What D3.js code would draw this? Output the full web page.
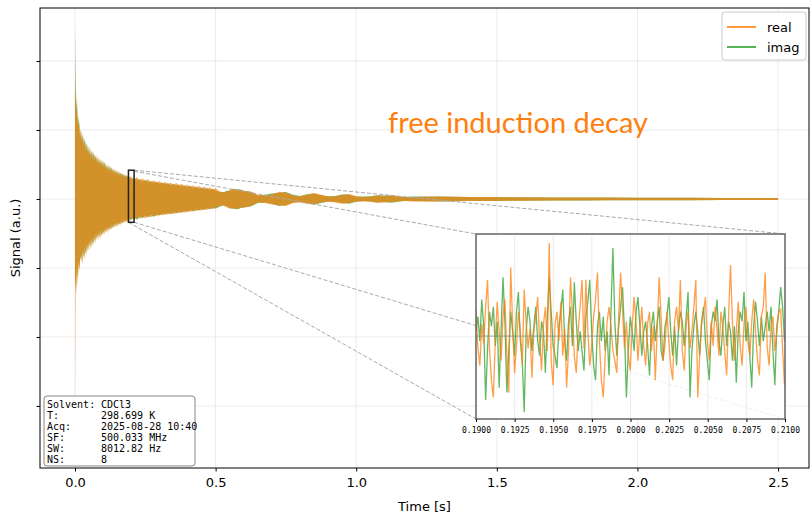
<!DOCTYPE html>
<html>
<head>
<meta charset="utf-8">
<script src="https://cdn.jsdelivr.net/npm/d3@7"></script>
<style>
  body { margin: 0; background: #fff; }
  svg { display: block; }
</style>
</head>
<body>
<div id="main"></div>
<script>
// ---- data ----
// main trace drawn as min/max envelope per time bin
var envT = [0, 0.002, 0.004, 0.007, 0.010, 0.013, 0.016, 0.019,
  0.022, 0.026, 0.030, 0.034, 0.038, 0.042, 0.046, 0.050, 0.054, 0.058,
  0.062, 0.066, 0.070, 0.074, 0.078, 0.082, 0.086, 0.090, 0.094, 0.098,
  0.102, 0.106, 0.110, 0.114, 0.118, 0.122, 0.126, 0.130, 0.134, 0.138,
  0.142, 0.146, 0.150, 0.154, 0.158, 0.162, 0.166, 0.170, 0.174, 0.178,
  0.182, 0.186, 0.190, 0.194, 0.198,
  0.21, 0.22, 0.23, 0.24, 0.25, 0.26, 0.27, 0.28, 0.29, 0.30,
  0.31, 0.32, 0.33, 0.34, 0.35, 0.36, 0.37, 0.38, 0.39, 0.40,
  0.41, 0.42, 0.43, 0.44, 0.45, 0.46, 0.47, 0.48, 0.49, 0.50,
  0.51, 0.52, 0.53, 0.54, 0.55, 0.56, 0.57, 0.58, 0.59, 0.60,
  0.625, 0.65, 0.675, 0.70, 0.725, 0.75, 0.775, 0.80, 0.825, 0.85, 0.875, 0.90,
  0.925, 0.95, 0.975, 1.00, 1.025, 1.05, 1.075, 1.10, 1.125, 1.15, 1.175, 1.20,
  1.3, 1.4, 1.5, 1.6, 1.7, 1.8, 1.9, 2.0, 2.1, 2.2, 2.3, 2.4, 2.5];
var realHi = [1.94, 1.35, 1.55, 1.10, 1.30, 0.95, 1.15, 0.90,
  1.00, 0.78, 0.92, 0.70, 0.85, 0.66, 0.80, 0.62, 0.74, 0.60,
  0.70, 0.55, 0.66, 0.52, 0.64, 0.50, 0.60, 0.48, 0.58, 0.46,
  0.56, 0.44, 0.52, 0.42, 0.50, 0.40, 0.48, 0.38, 0.45, 0.37,
  0.44, 0.35, 0.42, 0.34, 0.40, 0.33, 0.38, 0.32, 0.37, 0.31,
  0.36, 0.30, 0.35, 0.29, 0.33,
  0.28, 0.32, 0.26, 0.30, 0.25, 0.29, 0.24, 0.27, 0.23, 0.26,
  0.22, 0.25, 0.21, 0.24, 0.20, 0.23, 0.19, 0.22, 0.18, 0.21,
  0.17, 0.20, 0.16, 0.19, 0.15, 0.18, 0.14, 0.17, 0.13, 0.16,
  0.12, 0.10, 0.09, 0.11, 0.13, 0.14, 0.15, 0.13, 0.14, 0.12,
  0.11, 0.06, 0.05, 0.07, 0.10, 0.09, 0.05, 0.04, 0.06, 0.085, 0.06, 0.035,
  0.04, 0.06, 0.07, 0.04, 0.03, 0.035, 0.05, 0.045, 0.055, 0.04, 0.025, 0.03,
  0.035, 0.03, 0.028, 0.025, 0.023, 0.021, 0.02, 0.019, 0.018, 0.017, 0.016, 0.015, 0.015];
var realLo = [-2.96, -1.20, -1.40, -1.00, -1.25, -0.90, -1.05, -0.85,
  -0.80, -0.95, -0.72, -0.88, -0.66, -0.82, -0.62, -0.76, -0.58, -0.72,
  -0.55, -0.68, -0.52, -0.64, -0.50, -0.60, -0.48, -0.58, -0.45, -0.54,
  -0.44, -0.52, -0.42, -0.50, -0.40, -0.47, -0.38, -0.45, -0.37, -0.43,
  -0.35, -0.42, -0.34, -0.40, -0.33, -0.38, -0.32, -0.36, -0.31, -0.35,
  -0.30, -0.34, -0.29, -0.33, -0.28,
  -0.30, -0.26, -0.29, -0.25, -0.28, -0.24, -0.27, -0.23, -0.25, -0.22,
  -0.24, -0.21, -0.23, -0.20, -0.22, -0.19, -0.21, -0.18, -0.20, -0.17,
  -0.19, -0.16, -0.18, -0.15, -0.17, -0.14, -0.16, -0.13, -0.15, -0.12,
  -0.11, -0.09, -0.10, -0.12, -0.14, -0.13, -0.15, -0.14, -0.12, -0.13,
  -0.10, -0.05, -0.06, -0.08, -0.09, -0.10, -0.06, -0.05, -0.07, -0.08, -0.05, -0.04,
  -0.05, -0.07, -0.06, -0.035, -0.035, -0.04, -0.055, -0.05, -0.045, -0.035, -0.03, -0.035,
  -0.035, -0.03, -0.028, -0.025, -0.023, -0.021, -0.02, -0.019, -0.018, -0.017, -0.016, -0.015, -0.015];
var imagHi = [2.48, 1.70, 1.30, 1.45, 1.05, 1.20, 0.92, 1.00,
  0.85, 0.95, 0.76, 0.88, 0.70, 0.82, 0.64, 0.76, 0.62, 0.70,
  0.58, 0.68, 0.55, 0.64, 0.52, 0.60, 0.50, 0.57, 0.47, 0.54,
  0.46, 0.54, 0.43, 0.50, 0.41, 0.48, 0.39, 0.46, 0.38, 0.43,
  0.36, 0.42, 0.35, 0.40, 0.34, 0.38, 0.33, 0.37, 0.32, 0.35,
  0.31, 0.34, 0.30, 0.33, 0.29,
  0.30, 0.27, 0.29, 0.25, 0.28, 0.24, 0.26, 0.23, 0.25, 0.22,
  0.24, 0.21, 0.23, 0.20, 0.22, 0.19, 0.21, 0.18, 0.20, 0.17,
  0.19, 0.16, 0.18, 0.15, 0.17, 0.14, 0.16, 0.13, 0.15, 0.12,
  0.11, 0.10, 0.10, 0.12, 0.12, 0.15, 0.14, 0.14, 0.13, 0.12,
  0.10, 0.05, 0.06, 0.08, 0.09, 0.10, 0.06, 0.045, 0.07, 0.08, 0.055, 0.04,
  0.045, 0.065, 0.065, 0.035, 0.035, 0.04, 0.055, 0.05, 0.05, 0.035, 0.03, 0.035,
  0.035, 0.03, 0.028, 0.025, 0.023, 0.021, 0.02, 0.019, 0.018, 0.017, 0.016, 0.015, 0.015];
var imagLo = [-1.36, -1.10, -1.30, -0.95, -1.15, -0.88, -1.00, -0.82,
  -0.90, -0.74, -0.85, -0.70, -0.80, -0.64, -0.75, -0.60, -0.70, -0.57,
  -0.66, -0.53, -0.62, -0.50, -0.58, -0.48, -0.56, -0.46, -0.53, -0.44,
  -0.50, -0.42, -0.48, -0.40, -0.46, -0.39, -0.44, -0.37, -0.42, -0.36,
  -0.40, -0.34, -0.39, -0.33, -0.37, -0.32, -0.36, -0.31, -0.34, -0.30,
  -0.33, -0.29, -0.32, -0.28, -0.31,
  -0.27, -0.30, -0.25, -0.28, -0.24, -0.27, -0.23, -0.26, -0.22, -0.24,
  -0.21, -0.23, -0.20, -0.22, -0.19, -0.21, -0.18, -0.20, -0.17, -0.19,
  -0.16, -0.18, -0.15, -0.17, -0.14, -0.16, -0.13, -0.15, -0.12, -0.14,
  -0.12, -0.10, -0.09, -0.11, -0.13, -0.14, -0.14, -0.15, -0.13, -0.12,
  -0.11, -0.06, -0.05, -0.07, -0.10, -0.09, -0.05, -0.045, -0.06, -0.085, -0.06, -0.035,
  -0.04, -0.06, -0.07, -0.04, -0.03, -0.035, -0.05, -0.045, -0.055, -0.04, -0.025, -0.03,
  -0.035, -0.03, -0.028, -0.025, -0.023, -0.021, -0.02, -0.019, -0.018, -0.017, -0.016, -0.015, -0.015];

// zoomed window 0.19 - 0.21 s, one value per dwell time
var zoomStart = 0.19;
var dwell = 1 / 8012.82;
var zoomReal = [0.11, -0.05, -0.12, 0.05, -0.03, 0.12, 0.23, -0.05, -0.18, -0.25,
  -0.02, 0.14, 0.02, -0.10, 0.08, 0.15, -0.08, -0.23, 0.28, 0.05,
  -0.15, -0.04, 0.10, 0.02, -0.12, 0.19, 0.06, -0.05, 0.03, -0.17,
  0.02, 0.08, 0.16, -0.02, -0.14, 0.05, 0.12, -0.06, 0.38, -0.10,
  -0.20, 0.05, 0.10, -0.02, 0.14, -0.08, 0.03, -0.21, -0.05, 0.24,
  0.10, -0.08, -0.15, 0.02, 0.12, 0.23, -0.05, 0.23, 0.02, -0.12,
  -0.04, 0.08, 0.15, 0.26, -0.02, -0.18, -0.25, -0.08, 0.06, 0.12,
  0.04, -0.06, -0.10, -0.15, 0.08, 0.26, 0.10, -0.05, 0.06, -0.08,
  -0.14, 0.04, 0.16, 0.06, -0.10, 0.02, 0.12, -0.04, -0.12, 0.05,
  0.10, -0.06, 0.04, -0.18, 0.03, 0.24, 0.08, -0.10, -0.04, 0.10,
  -0.02, -0.12, -0.18, 0.06, 0.12, 0.02, 0.23, -0.06, -0.14, 0.04,
  0.10, -0.05, 0.02, 0.12, 0.23, -0.25, -0.08, 0.05, 0.10, 0.16,
  -0.02, -0.10, 0.06, -0.04, 0.12, 0.03, -0.08, 0.10, 0.04, -0.06,
  -0.16, 0.08, 0.29, 0.06, -0.10, 0.02, 0.14, -0.04, -0.12, 0.05,
  0.12, -0.02, -0.08, 0.06, 0.15, 0.02, -0.10, -0.16, 0.08, 0.12,
  0.26, -0.04, -0.12, 0.04, 0.08, -0.06, 0.02, 0.10, 0.11, -0.05, -0.20];
var zoomImag = [0.02, 0.08, -0.02, 0.15, 0.04, -0.26, -0.05, 0.10, 0.04, 0.12,
  -0.04, 0.06, -0.21, 0.02, 0.24, 0.06, -0.23, -0.06, 0.10, 0.02,
  -0.08, 0.10, 0.18, -0.02, -0.10, -0.31, 0.02, 0.12, 0.06, -0.06,
  0.04, 0.12, -0.02, -0.08, 0.06, 0.02, -0.15, 0.08, 0.24, 0.10,
  -0.04, -0.08, -0.13, 0.04, 0.10, 0.19, -0.02, -0.10, 0.06, 0.12,
  -0.04, 0.22, 0.06, -0.06, 0.02, -0.06, -0.14, 0.08, 0.14, 0.23,
  0.02, -0.12, -0.18, 0.04, 0.10, -0.02, 0.08, -0.06, 0.02, -0.16,
  0.10, 0.36, 0.06, -0.08, 0.04, 0.12, 0.20, 0.02, -0.25, -0.06,
  0.08, 0.02, -0.06, 0.10, 0.16, 0.04, -0.08, 0.02, 0.06, -0.04,
  -0.16, 0.04, 0.10, -0.02, 0.06, 0.12, -0.06, -0.10, 0.04, 0.08,
  0.16, 0.02, -0.08, 0.04, -0.12, 0.02, 0.10, 0.06, -0.04, 0.08,
  0.18, -0.25, -0.06, 0.04, 0.10, 0.02, -0.08, 0.06, 0.12, -0.02,
  -0.10, -0.18, 0.04, 0.10, 0.06, 0.15, -0.02, -0.08, 0.04, 0.12,
  -0.04, 0.06, 0.02, -0.10, 0.04, -0.19, 0.02, 0.10, 0.06, 0.18,
  -0.02, 0.06, -0.08, -0.21, 0.04, 0.14, 0.06, -0.04, 0.08, -0.02,
  0.04, 0.10, 0.02, 0.12, -0.06, -0.20, 0.04, 0.10, 0.20, 0.12, -0.02];

var xTicks = [0, 0.5, 1.0, 1.5, 2.0, 2.5];
var yTicks = [-3, -2, -1, 0, 1, 2];
var insetTicks = [0.19, 0.1925, 0.195, 0.1975, 0.2, 0.2025, 0.205, 0.2075, 0.21];
var insetY = [-0.338, 0.417];
var seriesNames = ["real", "imag"];
var seriesColors = ["#ff7f0e", "#2ca02c"];
var infoLabels = ["Solvent:", "T:", "Acq:", "SF:", "SW:", "NS:"];
var infoValues = ["CDCl3", "298.699 K", "2025-08-28 10:40", "500.033 MHz", "8012.82 Hz", "8"];

// ---- layout ----
var W = 811, H = 515;
var margin = {top: 8, right: 2, bottom: 47, left: 40},
    width = W - margin.left - margin.right,
    height = H - margin.top - margin.bottom;

var svg = d3.select("#main")
    .append("svg")
    .attr("width", W)
    .attr("height", H)
    .style("font-family", "'DejaVu Sans', sans-serif");

var g = svg.append("g")
    .attr("transform", "translate(" + margin.left + "," + margin.top + ")");

var x = d3.scaleLinear().domain([-0.1245, 2.61]).range([0, width]);
var y = d3.scaleLinear().domain([-3.899, 2.768]).range([height, 0]);

g.append("defs").append("clipPath").attr("id", "plotclip")
    .append("rect").attr("width", width).attr("height", height);

// grid
g.append("g").selectAll("line.vg").data(xTicks).enter().append("line")
    .attr("x1", function(d) { return x(d); }).attr("x2", function(d) { return x(d); })
    .attr("y1", 0).attr("y2", height)
    .attr("stroke", "#e6e6e6").attr("stroke-width", 0.8);
g.append("g").selectAll("line.hg").data(yTicks).enter().append("line")
    .attr("y1", function(d) { return y(d); }).attr("y2", function(d) { return y(d); })
    .attr("x1", 0).attr("x2", width)
    .attr("stroke", "#e6e6e6").attr("stroke-width", 0.8);

// main trace as envelopes
var env = envT.map(function(t, i) {
    return {t: t, rh: realHi[i], rl: realLo[i], ih: imagHi[i], il: imagLo[i]};
});
var plot = g.append("g").attr("clip-path", "url(#plotclip)");
plot.append("path").datum(env)
    .attr("d", d3.area()
        .x(function(d) { return x(d.t); })
        .y0(function(d) { return y(d.il); })
        .y1(function(d) { return y(d.ih); }))
    .attr("fill", seriesColors[1]).attr("fill-opacity", 0.7);
plot.append("path").datum(env)
    .attr("d", d3.area()
        .x(function(d) { return x(d.t); })
        .y0(function(d) { return y(d.rl); })
        .y1(function(d) { return y(d.rh); }))
    .attr("fill", seriesColors[0]).attr("fill-opacity", 0.7);

// axes
var xAxis = g.append("g")
    .attr("transform", "translate(0," + height + ")")
    .call(d3.axisBottom(x).tickValues(xTicks).tickFormat(d3.format(".1f")).tickSizeOuter(0).tickSize(3.5));
xAxis.select(".domain").remove();
xAxis.selectAll("text").attr("font-size", 13).attr("fill", "#000").attr("dy", "0.95em")
    .style("font-family", "'DejaVu Sans', sans-serif");
xAxis.selectAll("line").attr("stroke", "#000");

var yAxis = g.append("g")
    .call(d3.axisLeft(y).tickValues(yTicks).tickFormat("").tickSizeOuter(0).tickSize(3.5));
yAxis.select(".domain").remove();
yAxis.selectAll("line").attr("stroke", "#000");

g.append("rect").attr("width", width).attr("height", height)
    .attr("fill", "none").attr("stroke", "#000").attr("stroke-width", 1);

svg.append("text")
    .attr("x", margin.left + width / 2).attr("y", 511)
    .attr("text-anchor", "middle").attr("font-size", 13)
    .text("Time [s]");
svg.append("text")
    .attr("transform", "translate(20," + (margin.top + height / 2) + ") rotate(-90)")
    .attr("text-anchor", "middle").attr("font-size", 13)
    .text("Signal (a.u.)");

// zoom indicator + inset
var inset = {x0: 436, y0: 226, w: 309, h: 185};
var xi = d3.scaleLinear().domain([0.19, 0.21]).range([inset.x0, inset.x0 + inset.w]);
var yi = d3.scaleLinear().domain(insetY).range([inset.y0 + inset.h, inset.y0]);

var rx0 = x(0.19), rx1 = x(0.21), ry0 = y(insetY[1]), ry1 = y(insetY[0]);
var connectors = [
    [rx0, ry0, inset.x0, inset.y0],
    [rx1, ry0, inset.x0 + inset.w, inset.y0],
    [rx0, ry1, inset.x0, inset.y0 + inset.h],
    [rx1, ry1, inset.x0 + inset.w, inset.y0 + inset.h]
];
g.append("g").selectAll("line").data(connectors).enter().append("line")
    .attr("x1", function(d) { return d[0]; }).attr("y1", function(d) { return d[1]; })
    .attr("x2", function(d) { return d[2]; }).attr("y2", function(d) { return d[3]; })
    .attr("stroke", "#aaa").attr("stroke-width", 1).attr("stroke-dasharray", "4,2");

g.append("rect")
    .attr("x", rx0).attr("y", ry0).attr("width", rx1 - rx0).attr("height", ry1 - ry0)
    .attr("fill", "none").attr("stroke", "#222").attr("stroke-width", 1.5);

var ig = g.append("g");
ig.append("rect")
    .attr("x", inset.x0).attr("y", inset.y0).attr("width", inset.w).attr("height", inset.h)
    .attr("fill", "#fff").attr("fill-opacity", 0.82);
ig.append("defs").append("clipPath").attr("id", "insetclip")
    .append("rect").attr("x", inset.x0).attr("y", inset.y0).attr("width", inset.w).attr("height", inset.h);
ig.selectAll("line.ivg").data(insetTicks).enter().append("line")
    .attr("x1", function(d) { return xi(d); }).attr("x2", function(d) { return xi(d); })
    .attr("y1", inset.y0).attr("y2", inset.y0 + inset.h)
    .attr("stroke", "#e6e6e6").attr("stroke-width", 0.8);

var ic = ig.append("g").attr("clip-path", "url(#insetclip)");
ic.append("line")
    .attr("x1", inset.x0).attr("x2", inset.x0 + inset.w)
    .attr("y1", yi(0)).attr("y2", yi(0))
    .attr("stroke", "#1f77b4").attr("stroke-opacity", 0.5).attr("stroke-width", 1.2);

var zline = d3.line()
    .x(function(d, i) { return xi(zoomStart + i * dwell); })
    .y(function(d) { return yi(d); });
ic.append("path").datum(zoomImag).attr("d", zline)
    .attr("fill", "none").attr("stroke", seriesColors[1]).attr("stroke-opacity", 0.75).attr("stroke-width", 1.3);
ic.append("path").datum(zoomReal).attr("d", zline)
    .attr("fill", "none").attr("stroke", seriesColors[0]).attr("stroke-opacity", 0.75).attr("stroke-width", 1.3);

ig.append("rect")
    .attr("x", inset.x0).attr("y", inset.y0).attr("width", inset.w).attr("height", inset.h)
    .attr("fill", "none").attr("stroke", "#666").attr("stroke-width", 1.5);

var ixAxis = ig.append("g")
    .attr("transform", "translate(0," + (inset.y0 + inset.h) + ")")
    .call(d3.axisBottom(xi).tickValues(insetTicks).tickFormat(d3.format(".4f")).tickSizeOuter(0).tickSize(3));
ixAxis.select(".domain").remove();
ixAxis.selectAll("line").attr("stroke", "#000");
ixAxis.selectAll("text").attr("font-size", 8).attr("fill", "#000").attr("dy", "1em")
    .style("font-family", "'DejaVu Sans Mono', monospace");

// title text
g.append("text")
    .attr("x", 478).attr("y", 125)
    .attr("text-anchor", "middle")
    .attr("font-size", 29)
    .attr("fill", "#ff7f0e")
    .attr("textLength", 260).attr("lengthAdjust", "spacingAndGlyphs")
    .style("font-family", "Lato, sans-serif")
    .text("free induction decay");

// legend
var lg = g.append("g").attr("transform", "translate(682,4)");
lg.append("rect").attr("width", 84).attr("height", 48).attr("rx", 3)
    .attr("fill", "#fff").attr("fill-opacity", 0.8)
    .attr("stroke", "#ccc").attr("stroke-width", 1);
seriesNames.forEach(function(name, i) {
    lg.append("line")
        .attr("x1", 5).attr("x2", 34).attr("y1", 15 + i * 20).attr("y2", 15 + i * 20)
        .attr("stroke", seriesColors[i]).attr("stroke-opacity", 0.8).attr("stroke-width", 2);
    lg.append("text")
        .attr("x", 45).attr("y", 15 + i * 20).attr("dy", "0.35em")
        .attr("font-size", 13).text(name);
});

// acquisition info box
var ib = g.append("g").attr("transform", "translate(4,388)");
ib.append("rect").attr("width", 151).attr("height", 70).attr("rx", 3)
    .attr("fill", "#fff").attr("fill-opacity", 0.85)
    .attr("stroke", "#888").attr("stroke-width", 1);
var rows = ib.selectAll("g.row").data(infoLabels).enter().append("g")
    .attr("transform", function(d, i) { return "translate(0," + (11.5 + i * 11) + ")"; })
    .style("font-family", "'DejaVu Sans Mono', monospace")
    .attr("font-size", 10);
rows.append("text").attr("x", 3).text(function(d) { return d; });
rows.append("text").attr("x", 57).text(function(d, i) { return infoValues[i]; });
</script>
</body>
</html>
